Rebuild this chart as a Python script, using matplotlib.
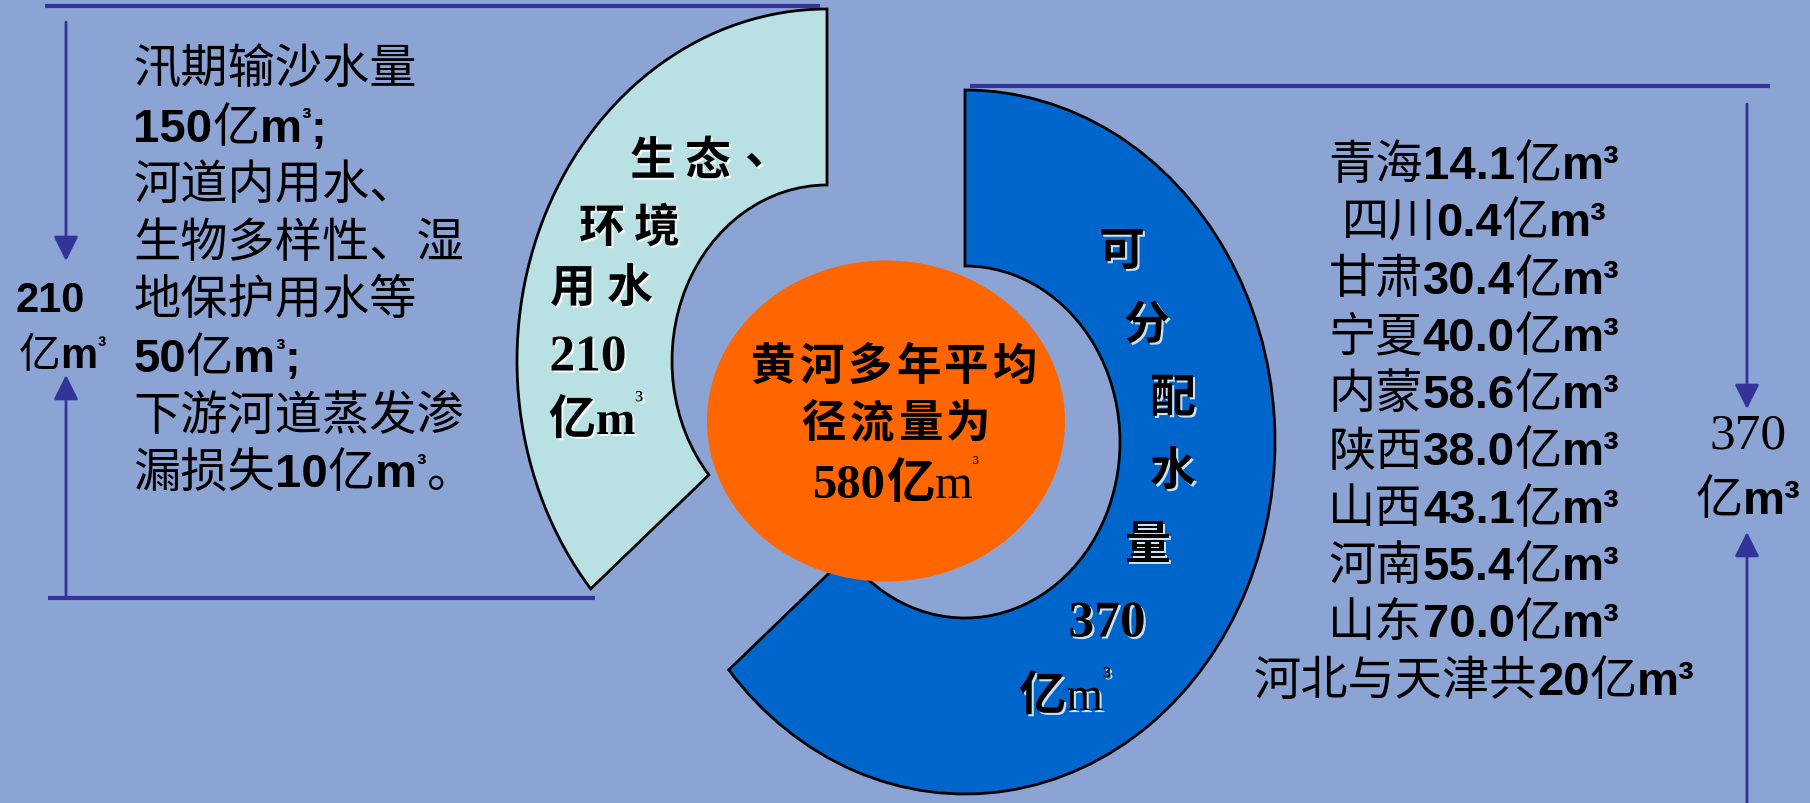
import matplotlib.pyplot as plt
import matplotlib.patheffects as pe
from matplotlib.patches import Wedge, Ellipse
from matplotlib.transforms import Affine2D

# 黄河水量分配（单位：亿m³）
eco_lines = [["汛期输沙水量"],
             ["河道内用水、", "生物多样性、湿", "地保护用水等"],
             ["下游河道蒸发渗", "漏损失"]]
eco_values = [150, 50, 10]
provinces = ["青海", "四川", "甘肃", "宁夏", "内蒙", "陕西", "山西", "河南", "山东", "河北与天津共"]
alloc_values = [14.1, 0.4, 30.4, 40.0, 58.6, 38.0, 43.1, 55.4, 70.0, 20]
alloc_decimals = [1, 1, 1, 1, 1, 1, 1, 1, 1, 0]

eco_total = sum(eco_values)
alloc_total = round(sum(alloc_values))
runoff = eco_total + alloc_total

BG = "#8CA4D4"
LINE = "#333399"
CYAN = "#B9E0E2"
BLUE = "#0066CC"
ORANGE = "#FF6600"
SANS = ["Liberation Sans", "Noto Sans CJK SC"]
SERIF = ["Liberation Serif", "Noto Sans CJK SC"]
CJK = ["Noto Sans CJK SC"]

W, H = 1810, 804
fig = plt.figure(figsize=(W / 100, H / 100), dpi=100, facecolor=BG)
ax = fig.add_axes([0, 0, 1, 1])
ax.set_xlim(0, W)
ax.set_ylim(H, 0)
ax.axis("off")
renderer = fig.canvas.get_renderer()

shadow = [pe.withSimplePatchShadow(offset=(1.5, -1.5), shadow_rgbFace="white", alpha=0.8)]


def N(s):
    return (s, "normal", 1.0, 0.0)


def B(s):
    return (s, "bold", 1.0, 0.0)


def SUP(s="³", w="bold", k=0.6, rise=0.3):
    return (s, w, k, rise)


def line(x, cy, parts, size, family=SANS, ha="left", effects=None):
    """Draw text runs side by side; cy is the visual middle of the line."""
    em = size * 100 / 72
    base = cy + 0.36 * em
    arts, cur = [], x
    for s, w, k, rise in parts:
        t = ax.text(cur, base - rise * em, s, fontsize=size * k, fontweight=w,
                    family=family, ha="left", va="baseline", path_effects=effects)
        cur += t.get_window_extent(renderer).width
        arts.append(t)
    if ha == "center":
        dx = (cur - x) / 2
        for t in arts:
            px, py = t.get_position()
            t.set_position((px - dx, py))
    return arts


# ring pieces, split by share of the runoff
ring_rx, ring_ry, ring_w = 310, 352, 0.5
split = 90 + 360 * eco_total / runoff
eco_wedge = Wedge((0, 0), 1, 90, split, width=ring_w, fc=CYAN, ec="black", lw=2,
                  transform=Affine2D().scale(ring_rx, -ring_ry).translate(827, 362) + ax.transData)
alloc_wedge = Wedge((0, 0), 1, split - 360, 90, width=ring_w, fc=BLUE, ec="black", lw=2,
                    transform=Affine2D().scale(ring_rx, -ring_ry).translate(965, 443) + ax.transData)
ax.add_patch(eco_wedge)
ax.add_patch(alloc_wedge)
ax.add_patch(Ellipse((886, 422), 358, 321, fc=ORANGE, ec="none", zorder=3))

# dimension lines
arrow = dict(arrowstyle="-|>,head_length=0.6,head_width=0.3", color=LINE, lw=2,
             mutation_scale=25, shrinkA=0, shrinkB=0)
ax.plot([45, 820], [7, 7], color=LINE, lw=3, solid_capstyle="butt")
ax.plot([48, 595], [599, 599], color=LINE, lw=3, solid_capstyle="butt")
ax.annotate("", xy=(66, 262), xytext=(66, 23), arrowprops=arrow)
ax.annotate("", xy=(66, 376), xytext=(66, 599), arrowprops=arrow)
ax.plot([970, 1770], [87, 87], color=LINE, lw=3, solid_capstyle="butt")
ax.annotate("", xy=(1747, 410), xytext=(1747, 105), arrowprops=arrow)
ax.annotate("", xy=(1747, 533), xytext=(1747, 804), arrowprops=arrow)

# left block: ecological water use
rows = []
for k, (pieces, v) in enumerate(zip(eco_lines, eco_values)):
    last = k == len(eco_values) - 1
    for p in (pieces[:-1] if last else pieces):
        rows.append([N(p)])
    head = [N(pieces[-1])] if last else []
    rows.append(head + [B(str(v)), N("亿"), B("m"), SUP(), N("。") if last else B(";")])
for i, parts in enumerate(rows):
    line(133, 67 + i * 57.6, parts, 34)

line(50, 297, [B(str(eco_total))], 30, ha="center")
line(62, 353, [N("亿"), B("m"), SUP()], 30, ha="center")

# right block: allocation by province
for i, (p, v, d) in enumerate(zip(provinces, alloc_values, alloc_decimals)):
    line(1474, 162 + i * 57.3, [N(p), B(f"{v:.{d}f}"), N("亿"), B("m³")], 34, ha="center")

line(1748, 430, [N(str(alloc_total))], 37, family=SERIF, ha="center")
line(1748, 497, [N("亿"), B("m³")], 34, ha="center")

# labels on the cyan piece
for ch, x, y in [("生", 653, 163), ("态", 708, 163), ("、", 768, 152),
                 ("环", 602, 230), ("境", 657, 230), ("用", 573, 290), ("水", 630, 290)]:
    ax.text(x, y, ch, fontsize=33, fontweight="bold", family=CJK, ha="center",
            va="center", path_effects=shadow)
line(588, 353, [B(str(eco_total))], 37, family=SERIF, ha="center", effects=shadow)
line(596, 418, [B("亿"), B("m"), SUP("³", "normal", 0.55, 0.55)], 34,
     family=SERIF, ha="center", effects=shadow)

# labels on the blue piece
for ch, x, y in [("可", 1122, 253), ("分", 1147, 327), ("配", 1173, 400),
                 ("水", 1173, 473), ("量", 1148, 547)]:
    ax.text(x, y, ch, fontsize=33, fontweight="bold", family=CJK, ha="center",
            va="center", path_effects=shadow)
line(1107, 619, [B(str(alloc_total))], 37, family=SERIF, ha="center", effects=shadow)
line(1065, 694, [B("亿"), N("m"), SUP("³", "normal", 0.55, 0.55)], 34,
     family=SERIF, ha="center", effects=shadow)

# centre label
for i, ch in enumerate("黄河多年平均"):
    ax.text(773 + i * 48.4, 367, ch, fontsize=32, fontweight="bold", family=CJK,
            ha="center", va="center", zorder=4)
for i, ch in enumerate("径流量为"):
    ax.text(823 + i * 48.4, 424, ch, fontsize=32, fontweight="bold", family=CJK,
            ha="center", va="center", zorder=4)
for t in line(896, 481, [B(str(runoff)), B("亿"), N("m"),
                         SUP("³", "normal", 0.4, 0.6)], 35, family=SERIF, ha="center"):
    t.set_zorder(4)

fig.savefig("out.png", dpi=100, facecolor=BG)
